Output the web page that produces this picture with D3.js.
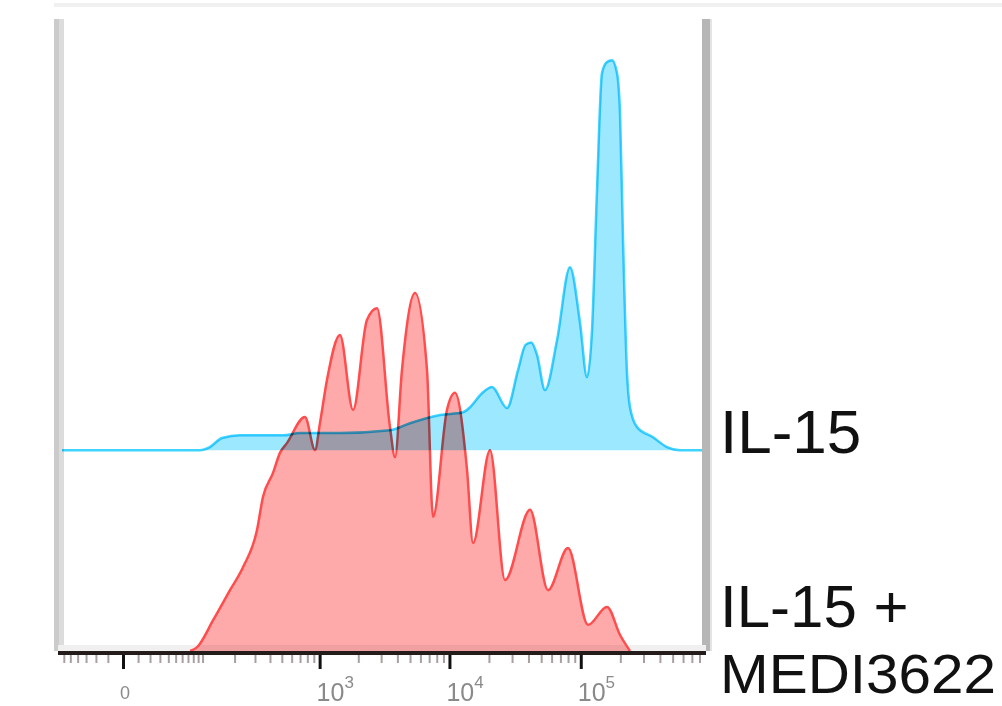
<!DOCTYPE html>
<html>
<head>
<meta charset="utf-8">
<script src="https://d3js.org/d3.v7.min.js"></script>
<style>
  html, body { margin: 0; padding: 0; background: #fff; }
  svg { display: block; }
  .blend { mix-blend-mode: multiply; }
</style>
</head>
<body>
<svg id="chart" width="1002" height="706"></svg>
<script>
// histogram outlines: [fluorescence, % of max]
var il15 = [
    [-63, 0], [94, 0], [118, 0.8], [154, 3.1], [223, 3.8], [511, 3.8],
    [700, 4.4], [1442, 4.4], [3508, 5.1], [4996, 6.9], [8467, 9.0],
    [12686, 9.7], [14345, 11.0], [17705, 14.6], [21117, 16.2], [27460, 10.8],
    [33297, 20.5], [38000, 27.0], [42000, 27.6], [46430, 24.5], [53460, 15.4],
    [65970, 28.2], [82800, 46.9], [98740, 32.6], [111507, 18.7], [121800, 30.8],
    [132900, 66.7], [145100, 96.7], [158300, 99.5], [172900, 100],
    [188600, 96.7], [198900, 86.4], [209700, 53.8], [224900, 19.7],
    [236900, 11.0], [267900, 5.9], [354500, 3.3], [452900, 0.8],
    [568900, 0], [836000, 0]
];

var il15Medi = [
    [74, 0], [88, 1.0], [127, 7.9], [182, 15.6], [237, 21.5], [312, 31.0],
    [350, 39.5], [423, 45.6], [483, 50.8], [550, 53.3], [766, 60.0],
    [920, 51.5], [1007, 58.5], [1142, 69.5], [1442, 81.0], [1822, 61.8],
    [2333, 84.9], [2789, 87.9], [3508, 57.4], [3835, 49.7], [4337, 72.1],
    [5455, 91.8], [6738, 72.1], [7488, 34.4], [9573, 61.8], [11022, 66.2],
    [13621, 46.4], [15127, 27.7], [20388, 51.5], [26509, 18.2],
    [41118, 36.2], [56331, 15.6], [79959, 26.4], [113553, 6.7],
    [158367, 11.3], [199023, 4.1], [236940, 0]
];

var majorTicks = [0, 1e3, 1e4, 1e5];
var majorExponents = [null, "3", "4", "5"];
var minorTicks = [
    -60, -50, -40, -30, -20, -10, 10, 20, 30, 40, 50, 60, 70, 80, 90,
    100, 200, 300, 400, 500, 600, 700, 800, 900,
    2000, 3000, 4000, 5000, 6000, 7000, 8000, 9000,
    20000, 30000, 40000, 50000, 60000, 70000, 80000, 90000,
    200000, 300000, 400000, 500000, 600000, 700000, 800000
];
var seriesLabels = ["IL-15", "IL-15 +", "MEDI3622"];

var svg = d3.select("#chart");
var font = "'Liberation Sans', Arial, sans-serif";

var x = d3.scaleSymlog()
            .constant(33)
            .domain([-63, 836000])
            .range([62, 702]);

var y = d3.scaleLinear()
            .domain([0, 100])
            .range([651, 261]);

// blue histogram is staggered above the red one
var offset = 51.5;
var shift = y(0) - y(offset);

// cropped header rule
svg.append("rect")
    .attr("x", 54).attr("y", 3)
    .attr("width", 948).attr("height", 4)
    .style("fill", "#f0f0f0");

// plot frame
svg.append("rect").attr("x", 54).attr("y", 19).attr("width", 5).attr("height", 632).style("fill", "#cbcbcb");
svg.append("rect").attr("x", 59).attr("y", 19).attr("width", 5).attr("height", 632).style("fill", "#dcdcdc");
svg.append("rect").attr("x", 702).attr("y", 19).attr("width", 8).attr("height", 632).style("fill", "#b6b6b6");
svg.append("rect").attr("x", 710).attr("y", 19).attr("width", 2).attr("height", 632).style("fill", "#e4e4e4");
svg.append("rect").attr("x", 58).attr("y", 645).attr("width", 648).attr("height", 6).style("fill", "#f0f0f0");

var area = d3.area()
               .curve(d3.curveMonotoneX)
               .x(d => x(d[0]))
               .y0(y(0))
               .y1(d => y(d[1]));

var line = d3.line()
               .curve(d3.curveMonotoneX)
               .x(d => x(d[0]))
               .y(d => y(d[1]));

var red = svg.append("g");
red.append("path")
    .datum(il15Medi)
    .attr("class", "blend")
    .attr("d", area)
    .style("fill", "#ffaaaa");
red.append("path")
    .datum(il15Medi)
    .attr("d", line)
    .style("fill", "none")
    .style("stroke", "#ff4d4d")
    .style("stroke-width", 2.5)
    .style("stroke-linejoin", "round");

var blue = svg.append("g")
                .attr("transform", "translate(" + [0, -shift] + ")");
blue.append("path")
    .datum(il15)
    .attr("class", "blend")
    .attr("d", area)
    .style("fill", "#9be8ff");
blue.append("path")
    .datum(il15)
    .attr("class", "blend")
    .attr("d", line)
    .style("fill", "none")
    .style("stroke", "#3fd4ff")
    .style("stroke-width", 2.5)
    .style("stroke-linejoin", "round");

// x axis
svg.append("line")
    .attr("x1", 58).attr("x2", 706)
    .attr("y1", 653).attr("y2", 653)
    .style("stroke", "#241b1b")
    .style("stroke-width", 4);

svg.append("g")
    .attr("transform", "translate(0,655)")
    .call(d3.axisBottom(x).tickValues(minorTicks).tickSize(8).tickFormat(""))
    .call(g => g.select(".domain").remove())
    .call(g => g.selectAll(".tick line").style("stroke", "#a8a0a0").style("stroke-width", 2));

svg.append("g")
    .attr("transform", "translate(0,655)")
    .call(d3.axisBottom(x).tickValues(majorTicks).tickSize(14).tickFormat(""))
    .call(g => g.select(".domain").remove())
    .call(g => g.selectAll(".tick line").style("stroke", "#111").style("stroke-width", 3));

var labels = svg.append("g")
    .style("font-family", font)
    .style("fill", "#8a8a8a");

majorTicks.forEach(function(v, i) {
    var t = labels.append("text")
        .attr("x", x(v) - 3)
        .attr("y", majorExponents[i] ? 701 : 699)
        .style("font-size", majorExponents[i] ? "25px" : "18px");
    if (majorExponents[i]) {
        t.append("tspan").text("10");
        t.append("tspan")
            .attr("dy", -13)
            .style("font-size", "17px")
            .text(majorExponents[i]);
    }
    else { t.text("0"); }
});

// series labels
var legend = svg.append("g")
    .style("font-family", font)
    .style("font-size", "62px")
    .style("fill", "#111");

legend.append("text").attr("x", 720).attr("y", 453).text(seriesLabels[0]);
legend.append("text").attr("x", 720).attr("y", 627)
    .style("font-size", "60px")
    .text(seriesLabels[1]);
legend.append("text").attr("x", 720).attr("y", 693)
    .attr("textLength", 276)
    .attr("lengthAdjust", "spacingAndGlyphs")
    .style("font-size", "56px")
    .text(seriesLabels[2]);
</script>
</body>
</html>
